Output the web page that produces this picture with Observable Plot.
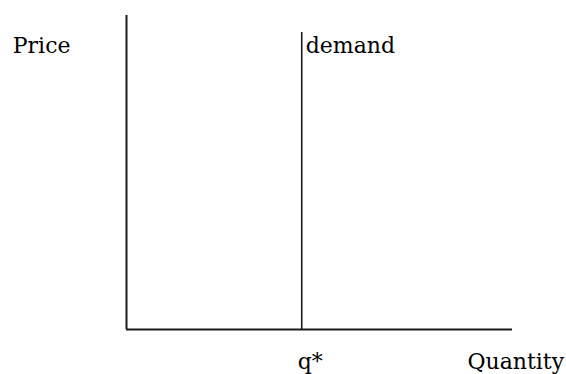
<!DOCTYPE html>
<html>
<head>
<meta charset="utf-8">
<script src="https://cdn.jsdelivr.net/npm/d3@7"></script>
<script src="https://cdn.jsdelivr.net/npm/@observablehq/plot@0.6"></script>
<style>
  html, body { margin: 0; padding: 0; background: #fff; }
  #chart { width: 566px; height: 374px; }
</style>
</head>
<body>
<div id="chart"></div>
<script>
// Perfectly inelastic demand: a vertical demand curve at quantity q*.
const quantityDomain = [0, 1];
const priceDomain = [0, 1];
const qStar = [0.454];          // quantity where demand is fixed
const demandTop = 0.946;        // top of the demand line (price units)
const axisLabels = { price: "Price", quantity: "Quantity" };
const curveLabel = "demand";
const qStarLabel = "q*";
const labelPrice = 0.88;        // price level of the upper labels

const font = "DejaVu Serif";
const ink = "#1a1a1a";
const textStyle = { fontFamily: font, fontSize: 22, fill: "#000", lineAnchor: "bottom", text: d => d };

const chart = Plot.plot({
  width: 566,
  height: 374,
  marginLeft: 126,
  marginRight: 54,
  marginTop: 15,
  marginBottom: 45,
  x: { domain: quantityDomain, axis: null },
  y: { domain: priceDomain, axis: null },
  style: { fontFamily: font, background: "#fff" },
  marks: [
    // price axis
    Plot.ruleX([quantityDomain[0]], { y1: priceDomain[0], y2: priceDomain[1], stroke: ink, strokeWidth: 2 }),
    // quantity axis
    Plot.ruleY([priceDomain[0]], { x1: quantityDomain[0], x2: quantityDomain[1], stroke: ink, strokeWidth: 2 }),
    // vertical demand curve
    Plot.ruleX(qStar, { y1: priceDomain[0], y2: demandTop, stroke: ink, strokeWidth: 1.6 }),
    // labels
    Plot.text([axisLabels.price], { ...textStyle, x: quantityDomain[0], y: labelPrice, textAnchor: "end", dx: -56 }),
    Plot.text([curveLabel], { ...textStyle, x: qStar[0], y: labelPrice, textAnchor: "start", dx: 4 }),
    Plot.text([qStarLabel], { ...textStyle, x: qStar[0], y: priceDomain[0], textAnchor: "start", dx: -4, dy: 39 }),
    Plot.text([axisLabels.quantity], { ...textStyle, x: quantityDomain[1], y: priceDomain[0], textAnchor: "start", dx: -45, dy: 39 })
  ]
});

document.getElementById("chart").appendChild(chart);
</script>
</body>
</html>
